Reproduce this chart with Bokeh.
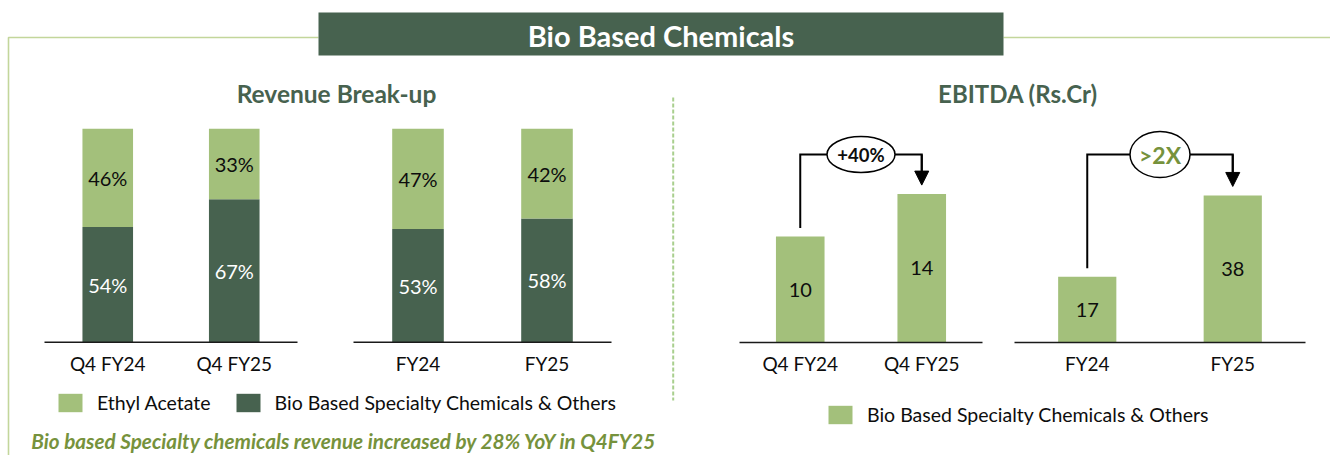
from bokeh.plotting import figure
from bokeh.models import Range1d, ColumnDataSource, Legend, LegendItem, Arrow, NormalHead
from bokeh.core.properties import value
from bokeh.embed import file_html
from bokeh.resources import INLINE

# ---------------- data ----------------
banner_title = "Bio Based Chemicals"
rev_title = "Revenue Break-up"
ebitda_title = "EBITDA (Rs.Cr)"

rev_q4_cats = ["Q4 FY24", "Q4 FY25"]
rev_q4_bio = [54, 67]
rev_q4_ethyl = [46, 33]

rev_fy_cats = ["FY24", "FY25"]
rev_fy_bio = [53, 58]
rev_fy_ethyl = [47, 42]

ebitda_q4_cats = ["Q4 FY24", "Q4 FY25"]
ebitda_q4_vals = [10, 14]

ebitda_fy_cats = ["FY24", "FY25"]
ebitda_fy_vals = [17, 38]

growth_labels = ["+40%", ">2X"]
rev_legend_labels = ["Ethyl Acetate", "Bio Based Specialty Chemicals & Others"]
ebitda_legend_label = "Bio Based Specialty Chemicals & Others"
footnote = "Bio based Specialty chemicals revenue increased by 28% YoY in Q4FY25"

# ---------------- styles ----------------
DARK = "#47624F"
LIGHT = "#A3C07B"
FRAME = "#C3D69B"
DIVIDER = "#A9CF8E"
OLIVE = "#76923C"
INK = "#0D0D0D"
FONT = value("Lato")

W, H = 1330, 455
X0, X1, Y0, Y1 = 0, W, 0, H   # canvas in page pixels

p = figure(width=W, height=H, output_backend="svg", toolbar_location=None,
           x_range=Range1d(X0, X1), y_range=Range1d(Y1, Y0),
           x_axis_location=None, y_axis_location=None, min_border=0)
p.grid.visible = False
p.outline_line_color = None
p.background_fill_color = "white"
p.border_fill_color = "white"

# panel layout: (axis left px, axis right px, baseline px, px per unit)
panels = {
    "rev_q4": (44, 297, 341.7, 2.134),
    "rev_fy": (353, 611, 341.7, 2.134),
    "eb_q4": (739, 982, 342.0, 10.6),
    "eb_fy": (1014, 1305, 342.0, 3.87),
}
xr, yr = {}, {}
for name, (l, r, base, ppu) in panels.items():
    n = 2
    upx = n / (r - l)
    xr[name] = Range1d(-(l - X0) * upx, n + (X1 - r) * upx)
    yr[name] = Range1d((base - Y1) / ppu, (base - Y0) / ppu)
p.extra_x_ranges = xr
p.extra_y_ranges = yr


def rng(name):
    return dict(x_range_name=name, y_range_name=name)


def text_kw(size, color=INK, style="normal", align="center"):
    return dict(text_font=FONT, text_font_size=size, text_color=color,
                text_font_style=style, text_align=align, text_baseline="middle")


# ---------------- frame & banner ----------------
p.line([8, 8, 318], [Y1, 37, 37], line_color=FRAME, line_width=1.6)
p.line([1003, X1], [37, 37], line_color=FRAME, line_width=1.6)
p.quad(left=[318], right=[1003], top=[12], bottom=[55], fill_color=DARK, line_color=None)
p.text(x=[660.5], y=[34.5], text=[banner_title], **text_kw("29px", "white", "bold"))
p.text(x=[336], y=[92.5], text=[rev_title], **text_kw("24.5px", DARK, "bold"))
p.text(x=[1017.5], y=[92.5], text=[ebitda_title], **text_kw("24px", DARK, "bold"))
p.line([672.7, 672.7], [97, 400], line_color=DIVIDER, line_width=2, line_dash="4 2")

# ---------------- revenue stacked bars ----------------
rev_renderers = None
for name, cats, bio, eth in [("rev_q4", rev_q4_cats, rev_q4_bio, rev_q4_ethyl),
                             ("rev_fy", rev_fy_cats, rev_fy_bio, rev_fy_ethyl)]:
    xs = [i + 0.5 for i in range(len(cats))]
    src = ColumnDataSource(dict(x=xs, bio=bio, ethyl=eth))
    rs = p.vbar_stack(["bio", "ethyl"], x="x", width=0.4, source=src,
                      fill_color=[DARK, LIGHT], line_color=None, **rng(name))
    if rev_renderers is None:
        rev_renderers = rs
    p.segment(x0=[0], x1=[len(cats)], y0=[0], y1=[0], line_color="#1A1A1A",
              line_width=1.5, **rng(name))
    p.text(x=xs, y=[b / 2 for b in bio], text=[f"{b}%" for b in bio],
           **text_kw("20px", "white"), **rng(name))
    p.text(x=xs, y=[b + e / 2 for b, e in zip(bio, eth)], text=[f"{e}%" for e in eth],
           **text_kw("20px"), **rng(name))
    p.text(x=xs, y=[0, 0], text=cats, y_offset=21, **text_kw("19px"), **rng(name))

# ---------------- EBITDA bars ----------------
eb_renderer = None
for (name, cats, vals), glabel, gcolor, gsize, (ew, eh) in zip(
        [("eb_q4", ebitda_q4_cats, ebitda_q4_vals), ("eb_fy", ebitda_fy_cats, ebitda_fy_vals)],
        growth_labels, [INK, OLIVE], ["18.5px", "23px"], [(68, 36), (60, 46)]):
    l, r, base, ppu = panels[name]
    xs = [i + 0.5 for i in range(len(cats))]
    src = ColumnDataSource(dict(x=xs, v=vals))
    rb = p.vbar(x="x", top="v", bottom=0, width=0.4, source=src, fill_color=LIGHT,
                line_color=None, **rng(name))
    if eb_renderer is None:
        eb_renderer = rb
    p.segment(x0=[0], x1=[len(cats)], y0=[0], y1=[0], line_color="#1A1A1A",
              line_width=1.5, **rng(name))
    p.text(x=xs, y=[v / 2 for v in vals], text=[str(v) for v in vals],
           **text_kw("20px"), **rng(name))
    p.text(x=xs, y=[0, 0], text=cats, y_offset=21, **text_kw("19px"), **rng(name))
    # growth connector
    level = (base - 154) / ppu
    start = vals[0] + 8.5 / ppu
    tip = vals[1] + 9 / ppu
    p.line(x=[xs[0], xs[0], xs[1], xs[1]], y=[start, level, level, tip + 12 / ppu],
           line_color="black", line_width=2, line_join="miter", **rng(name))
    p.add_layout(Arrow(x_start=xs[1], y_start=level, x_end=xs[1], y_end=tip,
                       end=NormalHead(size=14, fill_color="black", line_color="black", line_width=1),
                       line_color="black", line_width=2, **rng(name)))
    mid = (xs[0] + xs[1]) / 2
    p.ellipse(x=[mid], y=[level], width=ew, height=eh, width_units="screen",
              height_units="screen", fill_color="white", line_color="black",
              line_width=1.5, **rng(name))
    p.text(x=[mid], y=[level], text=[glabel], **text_kw(gsize, gcolor, "bold"), **rng(name))

# ---------------- legends ----------------
leg_common = dict(orientation="horizontal", glyph_width=30, glyph_height=23,
                  label_standoff=12, padding=0, margin=0, border_line_color=None,
                  background_fill_alpha=0, label_text_font="Lato",
                  label_text_font_size="19.5px", label_text_color=INK, label_height=23)
leg1 = Legend(items=[LegendItem(label=rev_legend_labels[0], renderers=[rev_renderers[1]]),
                     LegendItem(label=rev_legend_labels[1], renderers=[rev_renderers[0]])],
              location=(55, H - 414), spacing=22, **leg_common)
leg2 = Legend(items=[LegendItem(label=ebitda_legend_label, renderers=[eb_renderer])],
              location=(825, H - 426), **leg_common)
p.add_layout(leg1)
p.add_layout(leg2)

p.text(x=[30.7], y=[440.5], text=[footnote], **text_kw("20.7px", OLIVE, "bold italic", "left"))

open("out.html", "w").write(file_html(p, INLINE))
